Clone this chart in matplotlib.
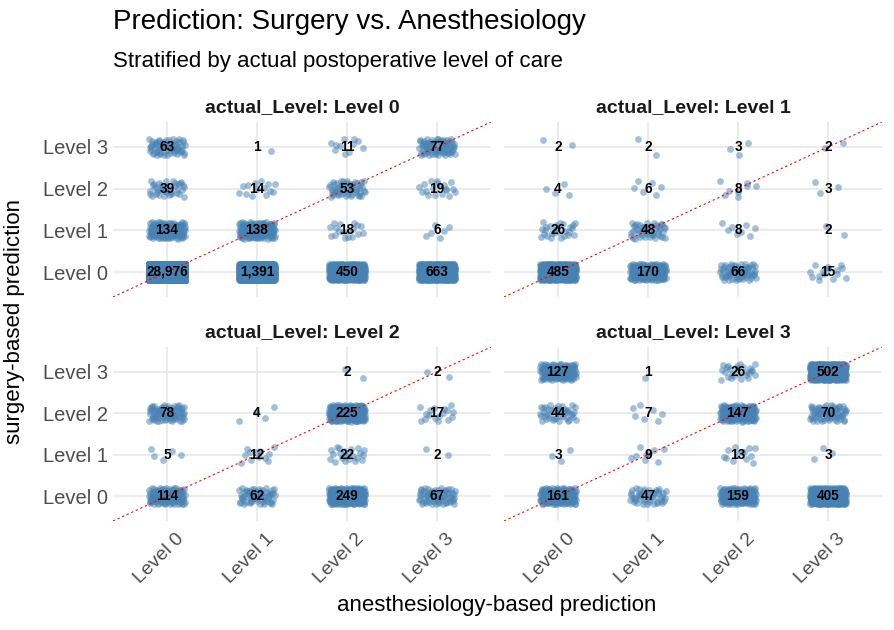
import matplotlib
matplotlib.use("Agg")
import matplotlib.pyplot as plt
from matplotlib.transforms import ScaledTranslation
import numpy as np

plt.rcParams['font.family'] = ['Liberation Sans', 'DejaVu Sans']

levels = ["Level 0", "Level 1", "Level 2", "Level 3"]
facet_titles = ["actual_Level: Level 0", "actual_Level: Level 1",
                "actual_Level: Level 2", "actual_Level: Level 3"]

# counts[surgery_level][anesthesiology_level] for each actual level
counts_actual0 = [[28976, 1391, 450, 663],
                  [134, 138, 18, 6],
                  [39, 14, 53, 19],
                  [63, 1, 11, 77]]
counts_actual1 = [[485, 170, 66, 15],
                  [26, 48, 8, 2],
                  [4, 6, 8, 3],
                  [2, 2, 3, 2]]
counts_actual2 = [[114, 62, 249, 67],
                  [5, 12, 22, 2],
                  [78, 4, 225, 17],
                  [0, 0, 2, 2]]
counts_actual3 = [[161, 47, 159, 405],
                  [3, 9, 13, 3],
                  [44, 7, 147, 70],
                  [127, 1, 26, 502]]
all_counts = [counts_actual0, counts_actual1, counts_actual2, counts_actual3]


def halton(n, base, start):
    out = np.empty(n)
    for k in range(n):
        i = k + start + 1
        f, r = 1.0, 0.0
        while i > 0:
            f /= base
            r += f * (i % base)
            i //= base
        out[k] = r
    return out


W, H = 895, 630
fig = plt.figure(figsize=(W / 100, H / 100), dpi=100)

px = lambda x: x / W
panels = [(113, 122, 491, 297), (504, 122, 882, 297),
          (113, 347, 491, 521), (504, 347, 882, 521)]

blue = "#4682B4"
grid_c = "#EBEBEB"

for idx, (x0, y0, x1, y1) in enumerate(panels):
    ax = fig.add_axes([x0 / W, 1 - y1 / H, (x1 - x0) / W, (y1 - y0) / H])
    ax.set_xlim(-0.6, 3.6)
    ax.set_ylim(-0.6, 3.6)
    for v in range(4):
        ax.axhline(v, color=grid_c, lw=1.4, zorder=0)
        ax.axvline(v, color=grid_c, lw=1.4, zorder=0)
    for s in ax.spines.values():
        s.set_visible(False)
    counts = all_counts[idx]
    cell = 0
    for si in range(4):
        for ai in range(4):
            n = counts[si][ai]
            cell += 1
            if n == 0:
                continue
            start = (cell * 37 + idx * 101) % 997
            jx = (halton(n, 2, start) * 2 - 1) * 0.2
            jy = (halton(n, 3, start) * 2 - 1) * 0.2
            ax.scatter(ai + jx, si + jy, s=24, color=blue, alpha=0.5,
                       linewidths=0, zorder=2)
            ax.text(ai, si, f"{n:,}", ha="center", va="center",
                    fontsize=9.8, fontweight="bold", color="black", zorder=4)
    ax.plot([-0.6, 3.6], [-0.6, 3.6], color="red", lw=0.8,
            linestyle=(0, (2, 2.5)), zorder=3)
    ax.set_xticks(range(4))
    ax.set_yticks(range(4))
    ax.tick_params(length=0, colors="#4D4D4D", labelsize=14)
    ax.tick_params(axis="y", labelsize=14.5)
    if idx in (0, 2):
        ax.set_yticklabels(levels)
    else:
        ax.set_yticklabels([])
    if idx in (2, 3):
        ax.set_xticklabels(levels, rotation=45, ha="right", va="top",
                           rotation_mode="anchor")
        off = ScaledTranslation(8 / 100, -4 / 100, fig.dpi_scale_trans)
        for lab in ax.get_xticklabels():
            lab.set_transform(lab.get_transform() + off)
    else:
        ax.set_xticklabels([])
    ax.set_title(facet_titles[idx], fontsize=14, fontweight="bold",
                 color="#1A1A1A", pad=7)

fig.text(px(113), 1 - 22 / H, "Prediction: Surgery vs. Anesthesiology",
         fontsize=20, ha="left", va="center", color="black")
fig.text(px(113), 1 - 61 / H, "Stratified by actual postoperative level of care",
         fontsize=16, ha="left", va="center", color="black")
fig.text(px(497), 1 - 606 / H, "anesthesiology-based prediction",
         fontsize=16, ha="center", va="center", color="black")
fig.text(px(15), 1 - 322 / H, "surgery-based prediction",
         fontsize=16, ha="center", va="center", rotation=90, color="black")

fig.savefig("out.png", dpi=100, facecolor="white")
